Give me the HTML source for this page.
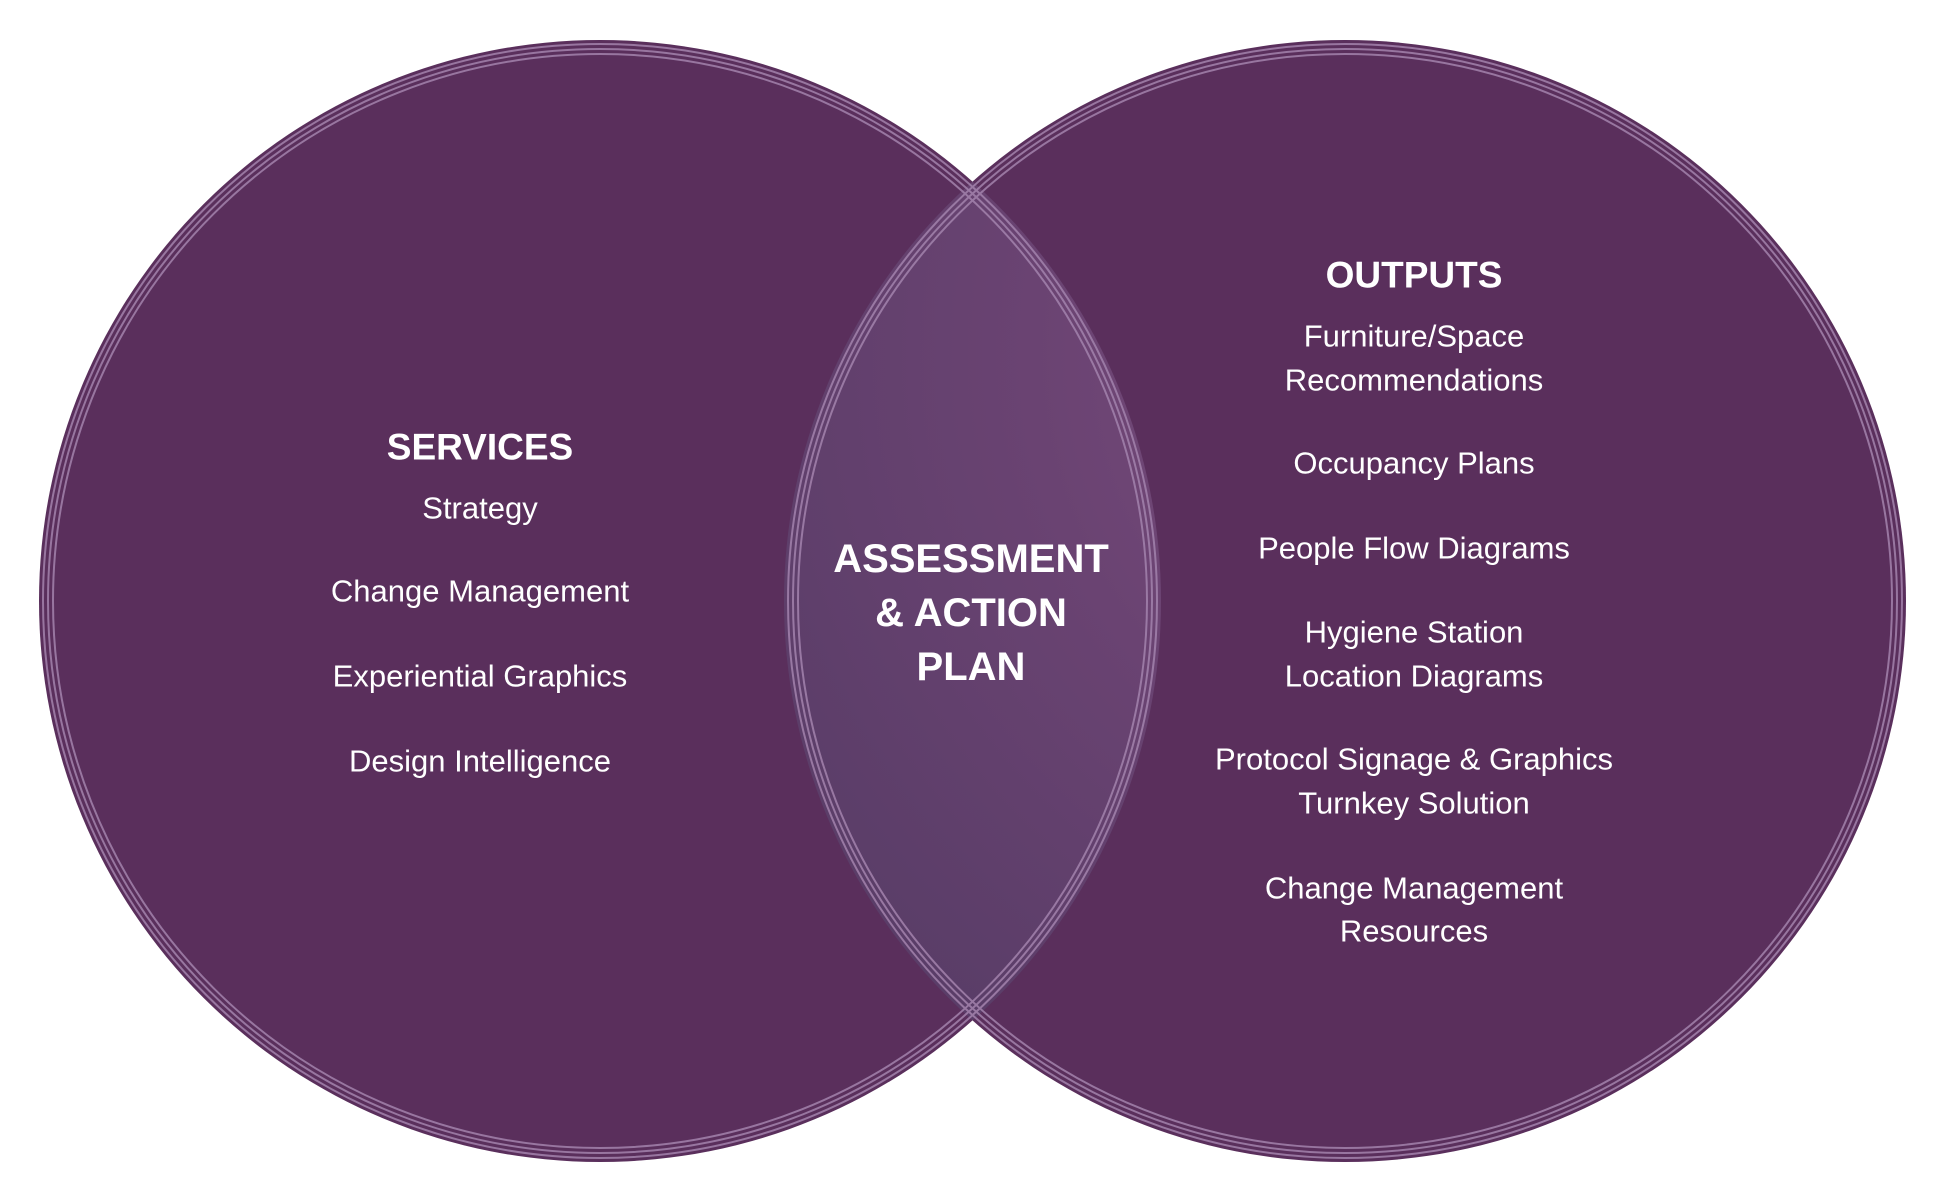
<!DOCTYPE html>
<html><head><meta charset="utf-8"><style>
html,body{margin:0;padding:0;background:#fff;}
svg{display:block;}
text{font-family:"Liberation Sans",sans-serif;fill:#fff;text-anchor:middle;dominant-baseline:central;}
.h{font-size:37px;font-weight:bold;}
.i{font-size:31px;}
.c{font-size:40px;font-weight:bold;}
</style></head><body>
<svg width="1942" height="1194" viewBox="0 0 1942 1194">
<defs>
<radialGradient id="g" cx="0.62" cy="0.28" r="0.8">
<stop offset="0" stop-color="#7d4f7f"/>
<stop offset="0.5" stop-color="#6a4372"/>
<stop offset="1" stop-color="#573c66"/>
</radialGradient>
<clipPath id="cl"><circle cx="600" cy="601" r="561"/></clipPath>
</defs>
<circle cx="600" cy="601" r="561" fill="#5a2f5c"/>
<circle cx="1345" cy="601" r="561" fill="#5a2f5c"/>
<circle cx="1345" cy="601" r="561" fill="url(#g)" clip-path="url(#cl)"/>
<g fill="none" stroke="#a383ad" stroke-width="2" opacity="0.85">
<circle cx="600" cy="601" r="557"/>
<circle cx="600" cy="601" r="552"/>
<circle cx="600" cy="601" r="547"/>
<circle cx="1345" cy="601" r="557"/>
<circle cx="1345" cy="601" r="552"/>
<circle cx="1345" cy="601" r="547"/>
</g>
<text class="h" x="480" y="447">SERVICES</text>
<text class="i" x="480" y="508">Strategy</text>
<text class="i" x="480" y="591">Change Management</text>
<text class="i" x="480" y="676">Experiential Graphics</text>
<text class="i" x="480" y="761">Design Intelligence</text>
<text class="h" x="1414" y="275">OUTPUTS</text>
<text class="i" x="1414" y="336">Furniture/Space</text>
<text class="i" x="1414" y="380">Recommendations</text>
<text class="i" x="1414" y="463">Occupancy Plans</text>
<text class="i" x="1414" y="548">People Flow Diagrams</text>
<text class="i" x="1414" y="632">Hygiene Station</text>
<text class="i" x="1414" y="676">Location Diagrams</text>
<text class="i" x="1414" y="759">Protocol Signage &amp; Graphics</text>
<text class="i" x="1414" y="803">Turnkey Solution</text>
<text class="i" x="1414" y="888">Change Management</text>
<text class="i" x="1414" y="931">Resources</text>
<text class="c" x="971" y="559">ASSESSMENT</text>
<text class="c" x="971" y="613">&amp; ACTION</text>
<text class="c" x="971" y="667">PLAN</text>
</svg>
</body></html>
